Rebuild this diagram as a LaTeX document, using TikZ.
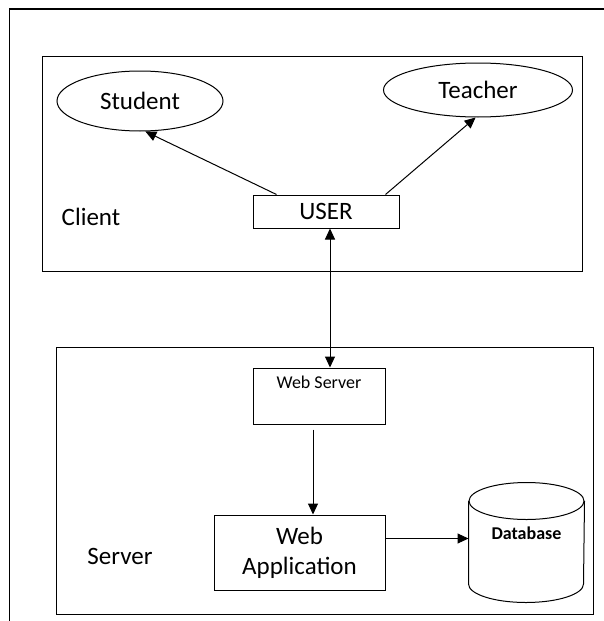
\documentclass[tikz,border=0pt]{standalone}
\usepackage{fontspec}
\setmainfont{Carlito}
\usetikzlibrary{arrows.meta, positioning, shapes}
\usetikzlibrary{shapes.geometric}

\begin{document}
\begin{tikzpicture}[x=1pt, y=-1pt, line width=1pt, font=\fontsize{25}{30}\selectfont]
    \tikzstyle{panel} = [rectangle, draw, inner sep=0pt]
    \tikzstyle{block} = [rectangle, draw, text centered, align=center, inner sep=0pt]
    \tikzstyle{actor} = [ellipse, draw, inner sep=0pt]
    \tikzstyle{store} = [rectangle, inner sep=0pt]
    \tikzstyle{small} = [inner sep=0pt, font=\fontsize{18}{20}\selectfont]
    \tikzstyle{tag} = [inner sep=0pt]
    \tikzstyle{line} = [draw, -{Triangle[length=11pt, width=10pt]}]
    \tikzstyle{dline} = [draw, {Triangle[length=11pt, width=10pt]}-{Triangle[length=11pt, width=10pt]}]

    % 外框
    \useasboundingbox (0,0) rectangle (604,621);
    \draw[line width=1.8pt] (9.5,621) -- (9.5,9) -- (604,9);

    % 客户端
    \node[panel, minimum width=540pt, minimum height=215pt] (client) at (312,163.5) {};
    \node[tag] (clientlabel) at (91,217) {Client};
    \node[actor, minimum width=166pt, minimum height=60pt] (student) at (140,101) {Student};
    \node[actor, minimum width=189pt, minimum height=54pt] (teacher) at (478,90) {Teacher};
    \node[block, minimum width=146pt, minimum height=33pt] (user) at (326,211.5) {USER};

    % 服务器端
    \node[panel, minimum width=537pt, minimum height=267pt] (server) at (324.5,480.5) {};
    \node[tag] (serverlabel) at (120,556) {Server};
    \node[block, minimum width=132pt, minimum height=56pt] (webserver) at (319,396) {};
    \node[small, below=8pt of webserver.north] (wstext) {Web Server};
    \node[block, minimum width=171pt, minimum height=75pt] (webapp) at (299.5,552.5) {Web\\Application};

    % 数据库 (圆柱)
    \node[store, minimum width=115pt, minimum height=119pt] (database) at (526.5,542.5) {};
    \draw ([yshift=-18.5pt]database.north west) -- ([yshift=18.5pt]database.south west)
        arc[start angle=180, end angle=360, x radius=57.5pt, y radius=18.5pt]
        -- ([yshift=-18.5pt]database.north east);
    \draw ([yshift=-18.5pt]database.north) ellipse[x radius=57.5pt, y radius=18.5pt];
    \node[small, font=\fontsize{18}{20}\selectfont\bfseries] (dbtext) at ([yshift=9pt]database.center) {Database};

    % 箭头
    \path [line] ([xshift=24pt]user.north west) -- (student.-80);
    \path [line] ([xshift=-14pt]user.north east) -- (teacher.-95);
    \path [dline] ([xshift=4pt]user.south) -- ([xshift=4pt]user.south |- webserver.north);
    \path [line] ([xshift=-6pt, yshift=-5pt]webserver.south) -- ([xshift=-6pt]webserver.south |- webapp.north);
    \path [line] ([yshift=14pt]webapp.east) -- ([yshift=14pt]webapp.east -| database.west);
\end{tikzpicture}
\end{document}
